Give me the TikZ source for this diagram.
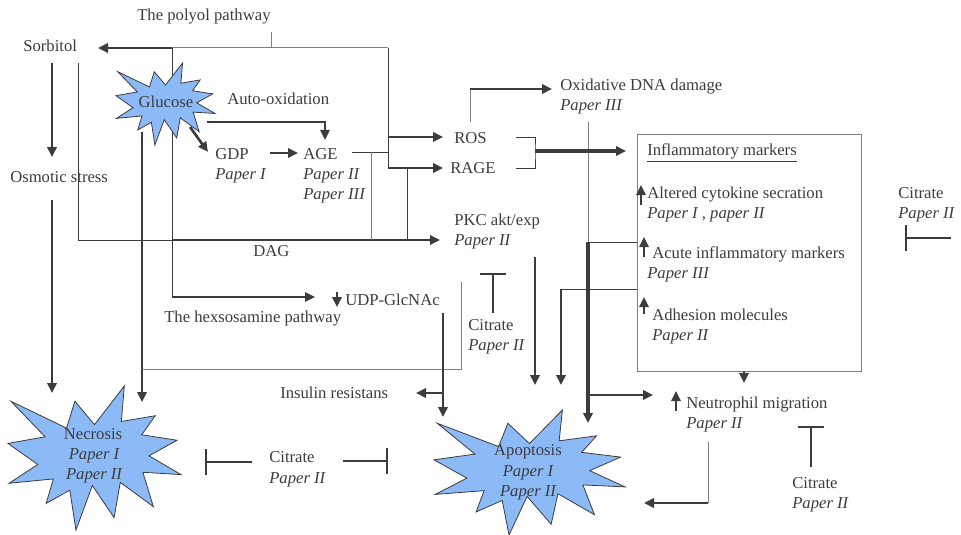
\documentclass[tikz,border=0pt]{standalone}
\usepackage{fontspec}
\setmainfont{Liberation Serif}
\usepackage{xcolor}
\usetikzlibrary{arrows.meta}
\definecolor{ink}{HTML}{3C3C3C}
\definecolor{wire}{HTML}{7E7E7E}
\definecolor{burstblue}{HTML}{8CBAF7}
\tikzset{lbl/.style={anchor=west,inner sep=0pt,text=ink,text height=9.4pt,text depth=1.9pt,
   font=\fontsize{12.5}{15}\selectfont},
 pap/.style={lbl,font=\fontsize{12.5}{15}\selectfont\itshape},
 mid/.style={lbl,anchor=center},
 midpap/.style={pap,anchor=center},
 thk/.style={draw=ink,line width=2pt,-{Triangle[length=7.5pt,width=7pt]}},
 med/.style={draw=ink,line width=1.4pt,-{Triangle[length=7.5pt,width=7pt]}},
 thn/.style={draw=wire,line width=.75pt},
 drk/.style={draw=ink,line width=.75pt},
 inhib/.style={draw=ink,line width=1.5pt,-{Bar[width=20pt]}},
 burst/.style={draw=ink,line width=.6pt,fill=burstblue},
 }
% explosion shape: x, y of upper left corner, width, height
\newcommand{\burst}[4]{%
  \begin{scope}[shift={(#1,#2)},xscale={#3/216},yscale={#4/216}]
    \draw[burst] (108,58) -- (145.22,0) -- (141.55,53.25) -- (183.80,44.57) -- (167.02,73.15)
      -- (210.97,81.37) -- (176.07,104.75) -- (216,132.90) -- (168.37,129.42) -- (181.45,180.95)
      -- (140.20,144.57) -- (132.47,197.37) -- (105.32,149.35) -- (84.85,216) -- (77.15,156.27)
      -- (47.62,176.17) -- (56.67,139.37) -- (1.35,145.87) -- (37.22,117.75) -- (0,86.15)
      -- (46.27,76.17) -- (3.70,22.95) -- (73.12,63.20) -- (83.52,22.95) -- cycle;
  \end{scope}}

\begin{document}
\begin{tikzpicture}[x=0.75pt,y=-0.75pt]
    \useasboundingbox (0,0) rectangle (961,535);
    % labels
    \node[lbl] (polyol) at (137,16) {The polyol pathway};
    \node[lbl] (sorb) at (23,47) {Sorbitol};
    \node[lbl] (auto) at (227,99) {Auto-oxidation};
    \node[lbl] (gdp) at (215,154) {GDP};
    \node[pap] (gdpp) at (215,174) {Paper I};
    \node[lbl] (age) at (303,154) {AGE};
    \node[pap] (agep) at (303,174) {Paper II};
    \node[pap] (agepp) at (303,194) {Paper III};
    \node[lbl] (osm) at (10,177) {Osmotic stress};
    \node[lbl] (dag) at (253,251) {DAG};
    \node[lbl] (ros) at (454,138) {ROS};
    \node[lbl] (rage) at (450,168) {RAGE};
    \node[lbl] (oxd) at (560,86) {Oxidative DNA damage};
    \node[pap] (oxdp) at (560,106) {Paper III};
    \node[lbl] (pkc) at (454,220) {PKC akt/exp};
    \node[pap] (pkcp) at (454,240) {Paper II};
    \node[lbl] (infl) at (647,151) {\underline{Inflammatory markers}};
    \node[lbl] (cyto) at (647,193) {Altered cytokine secration};
    \node[pap] (cytop) at (647,213) {Paper I , paper II};
    \node[lbl] (acute) at (652,253) {Acute inflammatory markers};
    \node[pap] (acutep) at (647,273) {Paper III};
    \node[lbl] (adh) at (652,315) {Adhesion molecules};
    \node[pap] (adhp) at (652,335) {Paper II};
    \node[lbl] (citA) at (898,193) {Citrate};
    \node[pap] (citAp) at (898,213) {Paper II};
    \node[lbl] (udp) at (345,300) {UDP-GlcNAc};
    \node[lbl] (hex) at (164,317) {The hexsosamine pathway};
    \node[lbl] (citB) at (468,325) {Citrate};
    \node[pap] (citBp) at (468,345) {Paper II};
    \node[lbl] (ins) at (280,393) {Insulin resistans};
    \node[lbl] (neut) at (686,403) {Neutrophil migration};
    \node[pap] (neutp) at (686,423) {Paper II};
    \node[lbl] (citC) at (792,483) {Citrate};
    \node[pap] (citCp) at (792,503) {Paper II};
    \node[lbl] (citD) at (269,457) {Citrate};
    \node[pap] (citDp) at (269,478) {Paper II};

    % junction points
    \coordinate (pa) at (271,32);   \coordinate (pb) at (271,48);
    \coordinate (fl) at (172,48);   \coordinate (fr) at (388,48);
    \coordinate (sb) at (98,48);
    \coordinate (hx) at (172,297);  \coordinate (hxe) at (315,297);
    \coordinate (sd) at (78,63);    \coordinate (dg) at (78,240);
    \coordinate (dgm) at (172,240); \coordinate (dge) at (440,240);
    \coordinate (ag) at (352,152);  \coordinate (agj) at (388,152);
    \coordinate (a1) at (371,152);  \coordinate (a1b) at (371,240);
    \coordinate (a2) at (407,168);  \coordinate (a2b) at (407,240);
    \coordinate (rsj) at (388,137); \coordinate (rse) at (443,137);
    \coordinate (rgj) at (388,168); \coordinate (rge) at (443,168);
    \coordinate (gx) at (207,122);  \coordinate (gxe) at (325,140);
    \coordinate (gd1) at (190,127); \coordinate (gd2) at (208,152);
    \coordinate (gdA) at (270,153); \coordinate (gdB) at (298,153);
    \coordinate (so1) at (52,63);   \coordinate (so2) at (52,157);
    \coordinate (os1) at (52,200);  \coordinate (os2) at (52,393);
    \coordinate (gn1) at (142,132); \coordinate (gn2) at (142,402);
    \coordinate (lp1) at (142,369); \coordinate (lp2) at (461,282);
    \coordinate (ud1) at (337,292); \coordinate (ud2) at (337,307);
    \coordinate (ua1) at (443,313); \coordinate (ua2) at (443,417);
    \coordinate (ui1) at (443,393); \coordinate (ui2) at (416,393);
    \coordinate (pt1) at (493,313); \coordinate (pt2) at (493,273);
    \coordinate (pk1) at (535,257); \coordinate (pk2) at (535,385);
    \coordinate (bx1) at (637,289); \coordinate (bx2) at (561,289); \coordinate (bx3) at (561,385);
    \coordinate (ox1) at (588,122); \coordinate (ox2) at (588,242);
    \coordinate (ox3) at (588,423); \coordinate (ox4) at (637,242);
    \coordinate (nt1) at (588,395); \coordinate (nt2) at (653,395);
    \coordinate (ro1) at (470,122); \coordinate (ro2) at (552,89);
    \coordinate (br1) at (516,138); \coordinate (br4) at (516,168);
    \coordinate (brm) at (535,151); \coordinate (bre) at (626,151);
    \coordinate (bn1) at (744,371); \coordinate (bn2) at (744,383);
    \coordinate (u1a) at (641,205); \coordinate (u1b) at (641,185);
    \coordinate (u2a) at (644,257); \coordinate (u2b) at (644,237);
    \coordinate (u3a) at (644,314); \coordinate (u3b) at (644,297);
    \coordinate (u4a) at (676,411); \coordinate (u4b) at (676,391);
    \coordinate (tc1) at (811,467); \coordinate (tc2) at (811,426);
    \coordinate (na1) at (708,442); \coordinate (na2) at (644,503);
    \coordinate (tr1) at (951,238); \coordinate (tr2) at (905,238);
    \coordinate (tl1) at (252,462); \coordinate (tl2) at (205,462);
    \coordinate (tm1) at (343,461); \coordinate (tm2) at (388,461);

    % polyol pathway
    \draw[thn] (pa) -- (pb);
    \draw[thn] (fl) -- (fr);
    \draw[drk] (fr) -- (rgj);
    \draw[thk] (fl) -- (sb);
    \draw[drk] (fl) -- (hx);
    \draw[med] (hx) -- (hxe);
    \draw[drk] (sd) -- (dg) -- (dgm);
    \draw[med] (dgm) -- (dge);
    \draw[drk] (ag) -- (agj);
    \draw[thn] (a1) -- (a1b);
    \draw[drk] (a2) -- (a2b);
    \draw[thk,line width=1.8pt] (rsj) -- (rse);
    \draw[thk,line width=2.2pt] (rgj) -- (rge);
    \draw[med] (gx) -| (gxe);
    \draw[thk] (gd1) -- (gd2);
    \draw[thk] (gdA) -- (gdB);
    \draw[thk] (so1) -- (so2);
    \draw[thk] (os1) -- (os2);
    \draw[thk] (gn1) -- (gn2);
    \draw[thn] (lp1) -| (lp2);
    \draw[thk] (ud1) -- (ud2);
    \draw[thk] (ua1) -- (ua2);
    \draw[thk] (ui1) -- (ui2);
    \draw[inhib] (pt1) -- (pt2);
    \draw[thk] (pk1) -- (pk2);
    \draw[drk] (bx1) -- (bx2);
    \draw[thk] (bx2) -- (bx3);
    \draw[thn] (ox1) -- (ox2);
    \draw[drk] (ox4) -- (ox2);
    \draw[thk,line width=2.6pt] (ox2) -- (ox3);
    \draw[thk] (nt1) -- (nt2);
    \draw[thn] (ro1) -- (ro1 |- ro2);
    \draw[thk] (ro1 |- ro2) -- (ro2);
    \draw[drk] (br1) -| (brm) |- (br4);
    \draw[thk,line width=2.6pt] (brm) -- (bre);
    % box of markers
    \draw[thn] (637,135) rectangle (861,371);
    \draw[thk] (bn1) -- (bn2);
    \draw[thk,line width=1.6pt] (u1a) -- (u1b);
    \draw[thk,line width=1.6pt] (u2a) -- (u2b);
    \draw[thk,line width=1.6pt] (u3a) -- (u3b);
    \draw[thk,line width=1.6pt] (u4a) -- (u4b);
    \draw[inhib] (tc1) -- (tc2);
    \draw[thn] (na1) -- (na1 |- na2);
    \draw[thk] (na1 |- na2) -- (na2);
    \draw[inhib] (tr1) -- (tr2);
    \draw[inhib] (tl1) -- (tl2);
    \draw[inhib] (tm1) -- (tm2);

    % bursts
    \burst{116}{63}{99}{82}
    \burst{8}{386}{173}{144}
    \burst{434}{410}{191}{125}
    \node[mid] (glu) at (166,103) {Glucose};
    \node[mid] (necr) at (93,434) {Necrosis};
    \node[midpap] (necrp) at (94,454) {Paper I};
    \node[midpap] (necrpp) at (94,474) {Paper II};
    \node[mid] (apop) at (528,450) {Apoptosis};
    \node[midpap] (apopp) at (528,471) {Paper I};
    \node[midpap] (apoppp) at (528,491) {Paper II};
\end{tikzpicture}
\end{document}
